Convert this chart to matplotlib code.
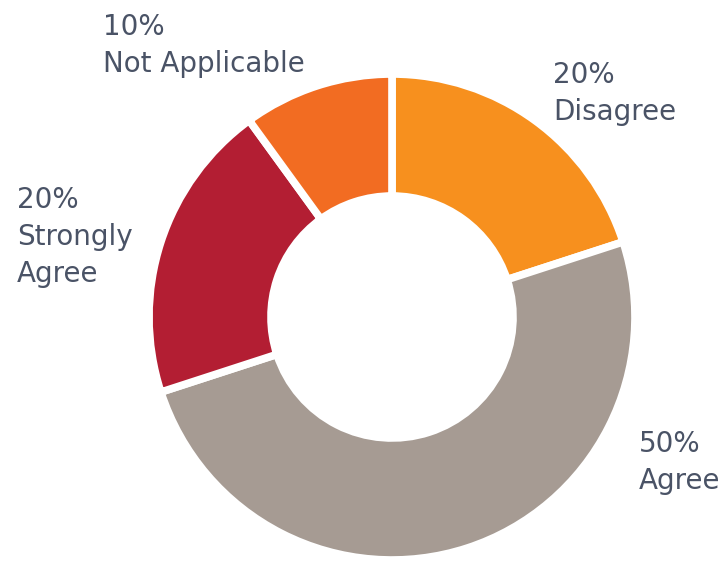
import matplotlib
matplotlib.use("Agg")
import matplotlib.pyplot as plt

categories = ["Disagree", "Agree", "Strongly\nAgree", "Not Applicable"]
values = [20, 50, 20, 10]
colors = ["#F7901E", "#A69B93", "#B31E33", "#F26C22"]

W, H = 725, 561
fig = plt.figure(figsize=(W / 100, H / 100), dpi=100)
ax = fig.add_axes([0, 0, 1, 1])

cx, cy = 392, H - 317
R = 243
ax.pie(values, colors=colors, startangle=90, counterclock=False,
       center=(cx, cy), radius=R, frame=True,
       wedgeprops=dict(width=122, edgecolor="white", linewidth=5.5))
ax.set_xlim(0, W)
ax.set_ylim(0, H)
ax.set_aspect("equal")
ax.axis("off")

# label anchor: left x and first-line baseline (pixels from top)
label_pos = [(553, 83), (639, 452), (17, 208), (103, 35)]
line_gap = 37
txtcolor = "#4A5366"
for cat, v, (x, y) in zip(categories, values, label_pos):
    lines = [f"{v}%"] + cat.split("\n")
    for i, line in enumerate(lines):
        ax.text(x, H - (y + i * line_gap), line, ha="left", va="baseline",
                fontsize=20, color=txtcolor, family="DejaVu Sans")

fig.savefig("out.png", dpi=100)
